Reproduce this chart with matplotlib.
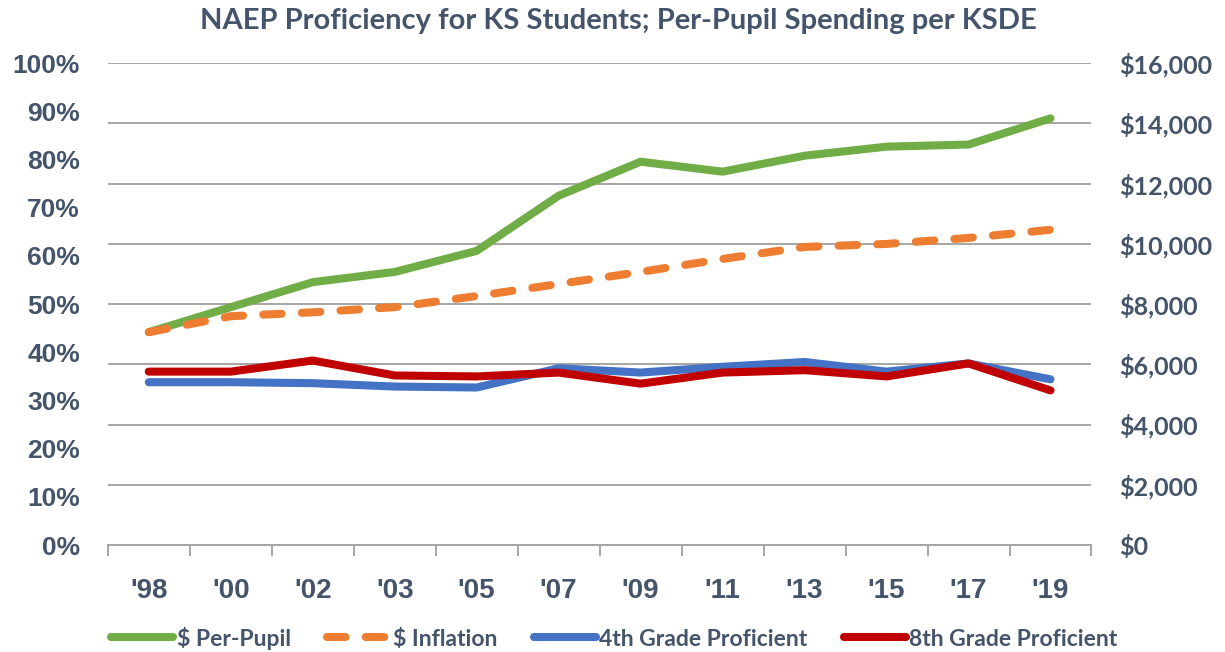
import matplotlib.pyplot as plt
from matplotlib.lines import Line2D
from matplotlib.ticker import FuncFormatter, MultipleLocator

years = ["'98", "'00", "'02", "'03", "'05", "'07", "'09", "'11", "'13", "'15", "'17", "'19"]
per_pupil = [7070, 7900, 8730, 9070, 9770, 11600, 12730, 12400, 12930, 13230, 13300, 14170]
inflation = [7070, 7600, 7730, 7900, 8270, 8670, 9070, 9500, 9900, 10000, 10200, 10470]
grade4 = [33.8, 33.8, 33.6, 32.9, 32.7, 36.7, 35.8, 37.0, 38.0, 36.0, 37.7, 34.4]
grade8 = [36.0, 36.0, 38.3, 35.2, 35.0, 35.8, 33.5, 35.8, 36.3, 35.0, 37.7, 32.1]

txt = '#44546A'
green, orange, blue, red = '#70AD47', '#ED7D31', '#4472C4', '#C00000'
lw = 5.8
dash = (2.3, 2.5)

fig = plt.figure(figsize=(12.25, 6.52), dpi=100)
ax2 = fig.add_axes([0.088, 0.164, 0.803, 0.739])
ax = ax2.twinx()
# percent axis on the left, drawn above the spending axis
ax.yaxis.tick_left()
ax2.yaxis.tick_right()
ax.set_zorder(ax2.get_zorder() + 1)
ax.patch.set_visible(False)

x = list(range(len(years)))
ax2.plot(x, per_pupil, color=green, lw=lw, solid_capstyle='round', solid_joinstyle='round')
l_inf, = ax2.plot(x, inflation, color=orange, lw=lw, dash_capstyle='round')
l_inf.set_dashes(dash)
ax.plot(x, grade4, color=blue, lw=lw, solid_capstyle='round', solid_joinstyle='round')
ax.plot(x, grade8, color=red, lw=lw, solid_capstyle='round', solid_joinstyle='round')

ax2.set_ylim(0, 16000)
ax2.yaxis.set_major_locator(MultipleLocator(2000))
ax2.yaxis.set_major_formatter(FuncFormatter(lambda v, p: '${:,.0f}'.format(v)))
ax2.grid(axis='y', color='#A6A6A6', lw=1.4)
ax2.set_axisbelow(True)

ax.set_ylim(0, 100)
ax.yaxis.set_major_locator(MultipleLocator(10))
ax.yaxis.set_major_formatter(FuncFormatter(lambda v, p: '{:.0f}%'.format(v)))

for a in (ax, ax2):
    a.set_xlim(-0.5, len(years) - 0.5)
    for s in a.spines.values():
        s.set_visible(False)
ax2.spines['bottom'].set_visible(True)
ax2.spines['bottom'].set_color('#A6A6A6')
ax2.spines['bottom'].set_linewidth(1.4)

ax2.set_xticks(x)
ax2.set_xticklabels(years)
ax2.set_xticks([i - 0.5 for i in range(len(years) + 1)], minor=True)
ax2.tick_params(axis='x', which='major', length=0, pad=24, labelsize=20, labelcolor=txt)
ax2.tick_params(axis='x', which='minor', length=8, width=1.4, color='#A6A6A6')
for t in ax2.get_xticklabels():
    t.set_fontfamily('Liberation Sans')
    t.set_fontweight('bold')

ax.tick_params(axis='y', length=0, pad=20, labelsize=19, labelcolor=txt)
for t in ax.get_yticklabels():
    t.set_fontfamily('Liberation Sans')
    t.set_fontweight('bold')
ax2.tick_params(axis='y', length=0, pad=20, labelsize=18, labelcolor=txt)
for t in ax2.get_yticklabels():
    t.set_fontfamily('Lato')
    t.set_fontweight('bold')

fig.text(0.5045, 1 - 21 / 652, 'NAEP Proficiency for KS Students; Per-Pupil Spending per KSDE',
         ha='center', va='center', fontsize=21, fontweight='bold', color=txt, fontfamily='Lato')

h_inf = Line2D([], [], color=orange, lw=lw, dash_capstyle='round')
h_inf.set_dashes(dash)
handles = [
    Line2D([], [], color=green, lw=lw, solid_capstyle='round'),
    h_inf,
    Line2D([], [], color=blue, lw=lw, solid_capstyle='round'),
    Line2D([], [], color=red, lw=lw, solid_capstyle='round'),
]
labels = ['$ Per-Pupil', '$ Inflation', '4th Grade Proficient', '8th Grade Proficient']
leg = fig.legend(handles, labels, loc='center', bbox_to_anchor=(0.5016, 1 - 638 / 652), ncol=4,
                 frameon=False, handlelength=2.7, handletextpad=0.15, columnspacing=1.6,
                 prop={'family': 'Lato', 'size': 16.5, 'weight': 'bold'})
for t in leg.get_texts():
    t.set_color(txt)

fig.savefig('out.png', dpi=100)
